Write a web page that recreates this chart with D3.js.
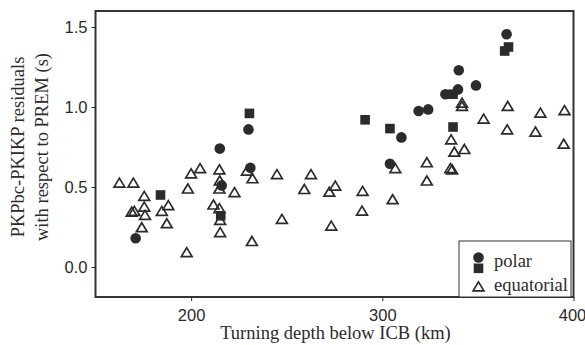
<!DOCTYPE html>
<html>
<head>
<meta charset="UTF-8">
<style>
  body { margin: 0; background: #fff; }
  svg { display: block; font-family: "Liberation Serif", "DejaVu Serif", serif; }
</style>
</head>
<body>
<svg></svg>
<script src="https://d3js.org/d3.v7.min.js"></script>
<script>
let width = 585, height = 345;

// polar data: two marker kinds share the "polar" legend entry
var circleDepth = [171, 215, 216, 230, 231, 304, 310, 319, 324, 333, 339.6, 340, 349, 365];
var circleRes   = [0.18, 0.74, 0.51, 0.86, 0.62, 0.645, 0.81, 0.975, 0.985, 1.08, 1.11, 1.23, 1.135, 1.455];

var squareDepth = [184, 215.5, 230.5, 291, 304, 337, 337, 364, 366];
var squareRes   = [0.45, 0.32, 0.96, 0.92, 0.865, 0.875, 1.08, 1.35, 1.375];

// equatorial data
var equDepth = [162.5, 169.8, 175.5, 175.5, 168.9, 170.3, 175.9, 174.2, 184.7, 188.1,
                187.3, 197.7, 198.3, 200, 204.7, 214.8, 215, 214.8, 222.7, 211.7,
                214.8, 215.2, 215.2, 229.2, 232.1, 231.8, 244.9, 262.7, 259.2, 272.3,
                275.4, 289.7, 305.4, 289.4, 273.3, 247.5, 306.8, 323.3, 323.3, 336,
                337.7, 342.9, 335.6, 336.5, 341.7, 341.7, 365.6, 353, 382.7, 395.3,
                365.3, 380.1, 394.9];
var equRes   = [0.527, 0.527, 0.444, 0.377, 0.346, 0.35, 0.325, 0.248, 0.35, 0.386,
                0.273, 0.092, 0.49, 0.585, 0.617, 0.61, 0.54, 0.49, 0.467, 0.39,
                0.367, 0.294, 0.217, 0.602, 0.554, 0.162, 0.58, 0.58, 0.487, 0.47,
                0.508, 0.475, 0.423, 0.352, 0.258, 0.30, 0.617, 0.654, 0.54, 0.797,
                0.72, 0.737, 0.617, 0.61, 1.027, 1.006, 1.006, 0.927, 0.964, 0.98,
                0.86, 0.846, 0.77];

var xTicks = [200, 300, 400];
var yTicks = [0.0, 0.5, 1.0, 1.5];
var legendLabels = ["polar", "equatorial"];

var ink = "#2b2b2b";

let svg = d3.select("svg")
    .attr("width", width)
    .attr("height", height);

var x = d3.scaleLinear().domain([150, 400]).range([95.5, 573.5]);
var y = d3.scaleLinear().domain([-0.1875, 1.6]).range([297, 11]);

// axes
svg.append("g")
    .attr("transform", "translate(0," + y.range()[0] + ")")
    .call(d3.axisBottom(x).tickValues(xTicks).tickSize(4).tickFormat(d3.format("d")))
    .call(g => g.select(".domain").remove())
    .call(g => g.selectAll("text").attr("font-size", 16.5).attr("fill", ink).attr("dy", "1.0em")
        .attr("x", (d, i) => i === xTicks.length - 1 ? -1.5 : 0))
    .call(g => g.selectAll("line").attr("stroke", ink));

svg.append("g")
    .attr("transform", "translate(" + x.range()[0] + ",0)")
    .call(d3.axisLeft(y).tickValues(yTicks).tickSize(4).tickFormat(d3.format(".1f")))
    .call(g => g.select(".domain").remove())
    .call(g => g.selectAll("text").attr("font-size", 16.5).attr("fill", ink).attr("x", -8))
    .call(g => g.selectAll("line").attr("stroke", ink));

// frame
svg.append("rect")
    .attr("x", x.range()[0])
    .attr("y", y.range()[1])
    .attr("width", x.range()[1] - x.range()[0])
    .attr("height", y.range()[0] - y.range()[1])
    .attr("fill", "none")
    .attr("stroke", "#333")
    .attr("stroke-width", 2);

// axis titles
svg.append("text")
    .attr("x", (x.range()[0] + x.range()[1]) / 2 + 1)
    .attr("y", 339)
    .attr("text-anchor", "middle")
    .attr("font-size", 18.5)
    .attr("fill", ink)
    .text("Turning depth below ICB (km)");

var yTitle = svg.append("text")
    .attr("transform", "translate(0,147) rotate(-90)")
    .attr("text-anchor", "middle")
    .attr("font-size", 18.5)
    .attr("fill", ink);
yTitle.append("tspan").attr("x", 0).attr("y", 24).text("PKPbc-PKIKP residuals");
yTitle.append("tspan").attr("x", 0).attr("y", 48).text("with respect to PREM (s)");

var triPath = "M0,-4.6L5.4,4.4L-5.4,4.4Z";

// equatorial triangles
svg.append("g").selectAll("path")
    .data(d3.zip(equDepth, equRes))
    .join("path")
    .attr("d", triPath)
    .attr("transform", d => "translate(" + x(d[0]) + "," + y(d[1]) + ")")
    .attr("fill", "none")
    .attr("stroke", ink)
    .attr("stroke-width", 1.7);

// polar squares
svg.append("g").selectAll("rect")
    .data(d3.zip(squareDepth, squareRes))
    .join("rect")
    .attr("x", d => x(d[0]) - 4.8)
    .attr("y", d => y(d[1]) - 4.8)
    .attr("width", 9.6)
    .attr("height", 9.6)
    .attr("fill", ink);

// polar circles
svg.append("g").selectAll("circle")
    .data(d3.zip(circleDepth, circleRes))
    .join("circle")
    .attr("cx", d => x(d[0]))
    .attr("cy", d => y(d[1]))
    .attr("r", 5.3)
    .attr("fill", ink);

// legend
var lg = svg.append("g");
lg.append("rect")
    .attr("x", 459).attr("y", 241)
    .attr("width", 112).attr("height", 56)
    .attr("fill", "#fff")
    .attr("stroke", "#333")
    .attr("stroke-width", 1);
lg.append("circle").attr("cx", 478.5).attr("cy", 257.5).attr("r", 5.3).attr("fill", ink);
lg.append("rect").attr("x", 473.7).attr("y", 263.5).attr("width", 9.6).attr("height", 9.6).attr("fill", ink);
lg.append("path").attr("d", triPath)
    .attr("transform", "translate(478.5,286.5)")
    .attr("fill", "none").attr("stroke", ink).attr("stroke-width", 1.7);
lg.selectAll("text")
    .data(legendLabels)
    .join("text")
    .attr("x", 494)
    .attr("y", (d, i) => i === 0 ? 267 : 291)
    .attr("font-size", 18.5)
    .attr("fill", ink)
    .text(d => d);
</script>
</body>
</html>
